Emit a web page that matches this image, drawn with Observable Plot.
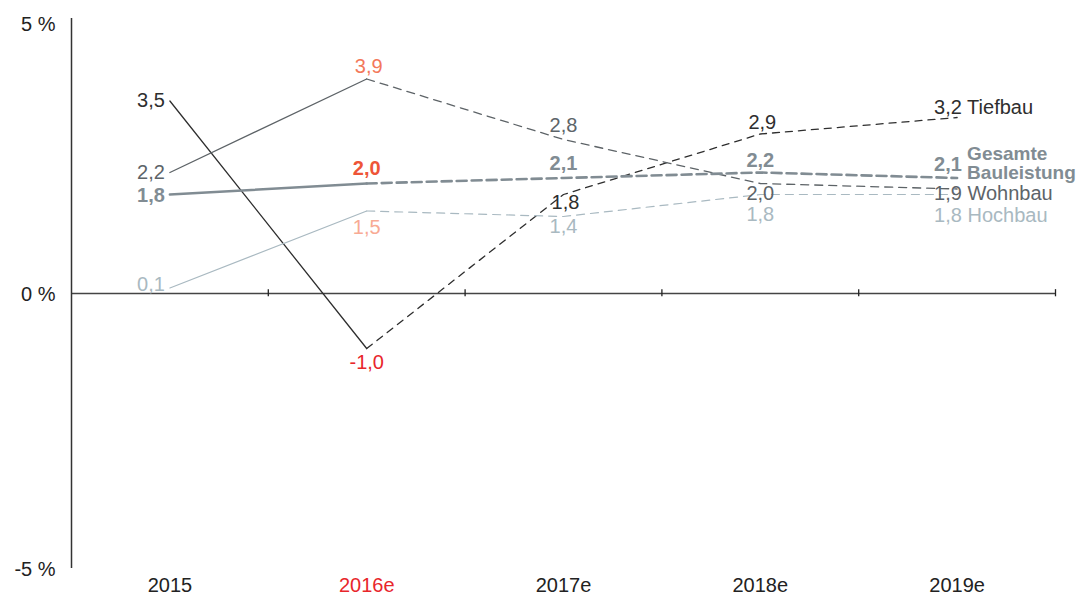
<!DOCTYPE html>
<html>
<head>
<meta charset="utf-8">
<script src="https://cdn.jsdelivr.net/npm/d3@7"></script>
<script src="https://cdn.jsdelivr.net/npm/@observablehq/plot@0.6"></script>
<style>
  html, body { margin: 0; padding: 0; background: #fff; }
  svg { display: block; }
</style>
</head>
<body>
<script>
// ---- data ----
const years = ["2015", "2016e", "2017e", "2018e", "2019e"];
const tiefbau = [3.5, -1.0, 1.8, 2.9, 3.2];
const wohnbau = [2.2, 3.9, 2.8, 2.0, 1.9];
const gesamt  = [1.8, 2.0, 2.1, 2.2, 2.1];
const hochbau = [0.1, 1.5, 1.4, 1.8, 1.8];
const yTicks = [-5, 0, 5];
const seriesNames = ["Tiefbau", "Wohnbau", ["Gesamte", "Bauleistung"], "Hochbau"];

// ---- styles / label placement ----
const RED = "#e8262b";
const series = [
  {name: seriesNames[0], values: tiefbau, stroke: "#2e2e2e", width: 1.3, dash: "7,6", text: "#2e2e2e", hl: RED, bold: false,
   dy: [0, 14, 8, -11, -10], dx: [0, 0, 2, 2, 0]},
  {name: seriesNames[1], values: wohnbau, stroke: "#5d6367", width: 1.3, dash: "8,6", text: "#5d6469", hl: "#f3785a", bold: false,
   dy: [0, -12, -14, 10, 5], dx: [0, 2, 0, 0, 0]},
  {name: seriesNames[2], values: gesamt, stroke: "#818c93", width: 2.6, dash: "10,5", text: "#818c93", hl: "#ee5538", bold: true,
   dy: [1, -15, -14, -12, -13], dx: [0, 0, 0, 0, 0]},
  {name: seriesNames[3], values: hochbau, stroke: "#a9b9c1", width: 1.2, dash: "8,6", text: "#a9b9c1", hl: "#f8aa94", bold: false,
   dy: [-3, 17, 10, 20, 21], dx: [0, 0, 0, 0, 0]}
];

const fmt = v => v.toFixed(1).replace(".", ",");
const FONT = "Liberation Sans, Arial, Helvetica, sans-serif";
const FS = 20;

const marks = [];

// axes
marks.push(Plot.ruleY([0], {x1: -0.5, x2: 4.5, stroke: "#444", strokeWidth: 1.5}));
marks.push(Plot.ruleX(years.map((d, i) => i + 0.5), {y1: -0.06, y2: 0.07, stroke: "#222", strokeWidth: 1.3}));
marks.push(Plot.ruleX([-0.5], {y1: -5, y2: 5, stroke: "#333", strokeWidth: 1.5}));
// y tick labels (top one sits slightly below its tick)
marks.push(Plot.text(yTicks.filter(d => d !== 5), {
  x: -0.5, y: d => d, text: d => `${d} %`, textAnchor: "end", dx: -16, dy: 1,
  fontSize: FS, fill: "#222", fontFamily: FONT
}));
marks.push(Plot.text(yTicks.filter(d => d === 5), {
  x: -0.5, y: d => d, text: d => `${d} %`, textAnchor: "end", dx: -16, dy: 6,
  fontSize: FS, fill: "#222", fontFamily: FONT
}));
marks.push(Plot.text(years, {
  x: (d, i) => i, y: -5, dy: 17, text: d => d, fontSize: FS, fontFamily: FONT,
  fill: d => d === "2016e" ? RED : "#222"
}));

// lines
for (const s of series) {
  const rows = s.values.map((v, i) => ({i, v}));
  marks.push(Plot.line(rows.filter(r => r.i <= 1), {x: "i", y: "v", stroke: s.stroke, strokeWidth: s.width}));
  marks.push(Plot.line(rows.filter(r => r.i >= 1), {x: "i", y: "v", stroke: s.stroke, strokeWidth: s.width, strokeDasharray: s.dash}));
}

// value labels
for (const s of series) {
  const rows = s.values.map((v, i) => ({i, v}));
  const weight = s.bold ? "bold" : "normal";
  // 2015: label ends just left of the point
  marks.push(Plot.text([rows[0]], {x: "i", y: "v", text: r => fmt(r.v), textAnchor: "end", dx: -5, dy: s.dy[0],
    fill: s.text, fontSize: FS, fontWeight: weight, fontFamily: FONT}));
  // middle years
  for (const k of [1, 2, 3]) {
    marks.push(Plot.text([rows[k]], {x: "i", y: "v", text: r => fmt(r.v), textAnchor: "middle", dx: s.dx[k], dy: s.dy[k],
      fill: k === 1 ? s.hl : s.text, fontSize: FS, fontWeight: weight, fontFamily: FONT}));
  }
  // last year: value + series name
  if (Array.isArray(s.name)) {
    marks.push(Plot.text([rows[4]], {x: "i", y: "v", text: r => fmt(r.v), textAnchor: "start", dx: -23, dy: s.dy[4],
      fill: s.text, fontSize: FS, fontWeight: weight, fontFamily: FONT}));
    marks.push(Plot.text([rows[4]], {x: "i", y: "v", text: () => s.name[0], textAnchor: "start", dx: 10, dy: -24,
      fill: s.text, fontSize: 19, fontWeight: weight, fontFamily: FONT}));
    marks.push(Plot.text([rows[4]], {x: "i", y: "v", text: () => s.name[1], textAnchor: "start", dx: 10, dy: -5,
      fill: s.text, fontSize: 19, fontWeight: weight, fontFamily: FONT}));
  } else {
    marks.push(Plot.text([rows[4]], {x: "i", y: "v", text: r => fmt(r.v) + " " + s.name, textAnchor: "start", dx: -23, dy: s.dy[4],
      fill: s.text, fontSize: FS, fontWeight: weight, fontFamily: FONT}));
  }
}

const chart = Plot.plot({
  width: 1083,
  height: 595,
  marginLeft: 71,
  marginRight: 28,
  marginTop: 18,
  marginBottom: 27,
  x: {type: "linear", domain: [-0.5, 4.5], axis: null},
  y: {domain: [-5, 5], axis: null},
  style: {fontFamily: FONT, background: "#fff", overflow: "visible"},
  marks
});
document.body.appendChild(chart);
</script>
</body>
</html>
